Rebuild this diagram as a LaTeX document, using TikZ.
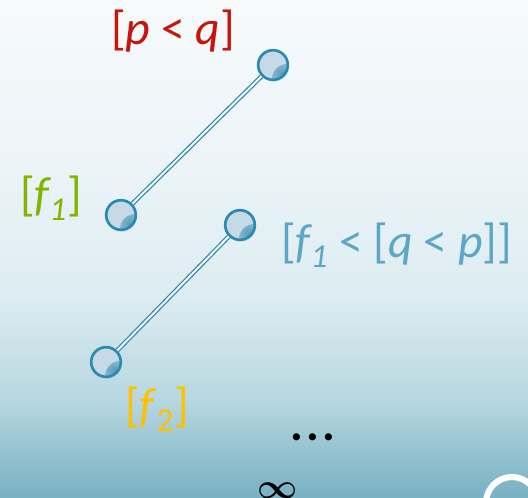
\documentclass[tikz,border=0pt]{standalone}
\usepackage{amsmath}
\usepackage{fontspec}
\setmainfont{Carlito}
\usetikzlibrary{positioning,shadows}
\definecolor{bgtop}{HTML}{F6FAFB}
\definecolor{bgup}{HTML}{EEF5F8}
\definecolor{bgmid}{HTML}{DCECF1}
\definecolor{bglow}{HTML}{B8D7E0}
\definecolor{bgbot}{HTML}{78B1C3}
\definecolor{ringcol}{HTML}{2B8AB0}
\definecolor{ballfill}{HTML}{C6D9E6}
\definecolor{balldark}{HTML}{5A9DC0}
\definecolor{redlab}{HTML}{C8140A}
\definecolor{greenlab}{HTML}{82B400}
\definecolor{bluelab}{HTML}{5DA6C6}
\definecolor{orangelab}{HTML}{FFC000}
\pgfdeclareverticalshading{bgshade}{100bp}{%
  color(0bp)=(bgbot); color(25bp)=(bgbot); color(35bp)=(bglow);
  color(45bp)=(bgmid); color(60bp)=(bgup); color(75bp)=(bgtop);
  color(100bp)=(bgtop)}
\tikzset{
  point/.style={
    circle, draw=ringcol, line width=1.9pt, fill=ballfill,
    minimum size=0.74cm, inner sep=0pt,
    drop shadow={opacity=0.2, shadow xshift=0.8pt, shadow yshift=-1.4pt},
    path picture={\shade[inner color=balldark, outer color=ballfill]
      (path picture bounding box.south east) circle (0.4cm);}
  },
  label/.style={font=\fontsize{34}{36}\selectfont, inner sep=0pt},
  link/.style={draw=ringcol, line width=0.9pt, double=white, double distance=1.4pt}
}
\begin{document}
\begin{tikzpicture}[x=0.025cm, y=-0.025cm]
  \shade[shading=bgshade] (0,0) rectangle (528,498);
  \useasboundingbox (0,0) rectangle (528,498);

  % corner ring
  \draw[white, line width=4.3pt] (512,503) circle (26);

  \node[point] (pq) at (273,65) {};
  \node[point] (fa) at (121,215) {};
  \node[point] (fq) at (240,225) {};
  \node[point] (fb) at (106,362) {};

  \draw[link] (fa) -- (pq);
  \draw[link] (fb) -- (fq);

  \node[label, text=redlab] (pqlab) at (173,31) {[\textit{p} < \textit{q}]};
  \node[label, text=greenlab] (falab) at (51,198) {[\textit{f\textsubscript{1}}]};
  \node[label, text=bluelab, anchor=west] (fqlab) at (281,245)
    {[\textit{f\textsubscript{1}} < [\textit{q} < \textit{p}]]};
  \node[label, text=orangelab] (fblab) at (157,409) {[\textit{f}\textsubscript{2}]};

  \node[label, anchor=base] (dots) at (313,441) {\textbf{.\kern2.5pt.\kern2.5pt.}};
  \node[label] (inf) at (278,491) {$\boldsymbol{\infty}$};
\end{tikzpicture}
\end{document}
